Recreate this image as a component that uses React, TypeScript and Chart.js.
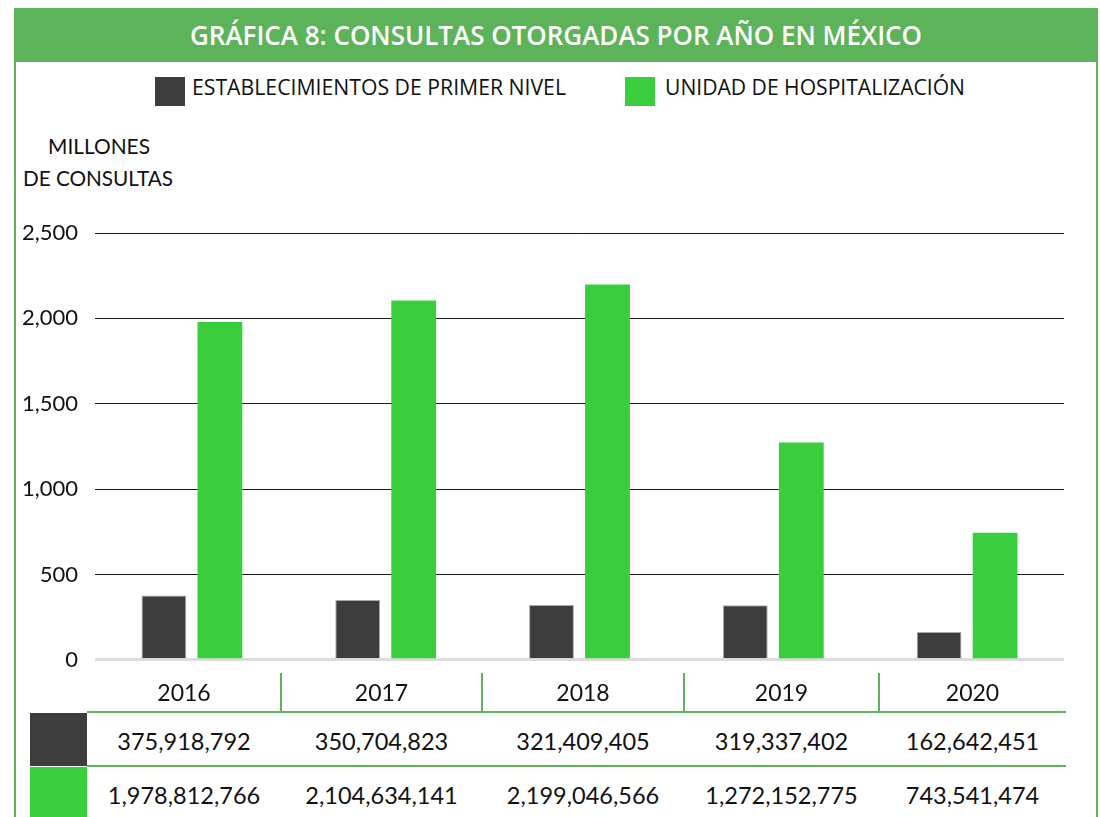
import React, { useEffect, useLayoutEffect, useRef } from "react";
import { Chart, registerables } from "chart.js";

Chart.register(...registerables);

const title = "GRÁFICA 8: CONSULTAS OTORGADAS POR AÑO EN MÉXICO";
const years = ["2016", "2017", "2018", "2019", "2020"];
const seriesNames = ["ESTABLECIMIENTOS DE PRIMER NIVEL", "UNIDAD DE HOSPITALIZACIÓN"];
const primerNivel = [375918792, 350704823, 321409405, 319337402, 162642451];
const hospitalizacion = [1978812766, 2104634141, 2199046566, 1272152775, 743541474];
const yTitle = ["MILLONES", "DE CONSULTAS"];
const yTicks = [0, 500, 1000, 1500, 2000, 2500];

const DARK = "#3d3d3d";
const GREEN = "#3acd3e";
const FRAME = "#5db35a";
const COND = '"Open Sans", sans-serif';
const HUM = 'Lato, "Open Sans", sans-serif';

const fmt = (n: number) => n.toLocaleString("en-US");

function FitText(props: { text: string; left: number; top: number; width: number; style: React.CSSProperties }) {
  const ref = useRef<HTMLSpanElement>(null);
  useLayoutEffect(() => {
    const el = ref.current;
    if (!el) return;
    el.style.transform = "none";
    const w = el.getBoundingClientRect().width;
    if (w > 0) el.style.transform = `scaleX(${props.width / w})`;
  }, [props.text, props.width]);
  return (
    <span
      ref={ref}
      style={{
        position: "absolute",
        left: props.left,
        top: props.top,
        whiteSpace: "nowrap",
        transformOrigin: "0 0",
        display: "inline-block",
        ...props.style,
      }}
    >
      {props.text}
    </span>
  );
}

export default function App() {
  const ref = useRef<HTMLCanvasElement>(null);
  useEffect(() => {
    if (!ref.current) return;
    const chart = new Chart(ref.current, {
      type: "bar",
      data: {
        labels: years,
        datasets: [
          {
            label: seriesNames[0],
            data: primerNivel.map((v) => v / 1e6),
            backgroundColor: DARK,
            borderColor: "#a8a8a8",
            borderWidth: 1,
            categoryPercentage: 0.578,
            barPercentage: 0.8,
          },
          {
            label: seriesNames[1],
            data: hospitalizacion.map((v) => v / 1e6),
            backgroundColor: GREEN,
            borderWidth: 0,
            categoryPercentage: 0.578,
            barPercentage: 0.8,
          },
        ],
      },
      options: {
        animation: false,
        responsive: false,
        maintainAspectRatio: false,
        layout: { padding: { top: 33, bottom: 13, left: 0, right: 36 } },
        plugins: { legend: { display: false }, tooltip: { enabled: false } },
        scales: {
          x: { display: false },
          y: {
            min: 0,
            max: 2500,
            afterBuildTicks: (s: any) => {
              s.ticks = yTicks.map((v) => ({ value: v }));
            },
            afterFit: (s: any) => {
              s.width = 95;
            },
            border: { display: false },
            grid: {
              drawTicks: false,
              color: (c: any) => (c.tick && c.tick.value === 0 ? "#dcdcdc" : "#1a1a1a"),
              lineWidth: (c: any) => (c.tick && c.tick.value === 0 ? 3 : 1),
            },
            ticks: {
              padding: 17,
              color: "#111",
              font: { family: HUM, size: 22 },
              callback: (v: any) => fmt(Number(v)),
            },
          },
        },
      },
    });
    return () => chart.destroy();
  }, []);

  const colEdges = [87, 281, 482, 684, 879, 1066];
  const abs = (s: React.CSSProperties): React.CSSProperties => ({ position: "absolute", ...s });

  return (
    <div style={abs({ left: 0, top: 0, width: 1100, height: 817, overflow: "hidden", background: "#fff", fontFamily: HUM, color: "#111" })}>
      {/* frame */}
      <div style={abs({ left: 14, top: 8, width: 2, height: 820, background: FRAME })} />
      <div style={abs({ left: 1096, top: 8, width: 2, height: 820, background: FRAME })} />
      <div style={abs({ left: 14, top: 8, width: 1084, height: 54, background: FRAME })} />
      <FitText
        text={title}
        left={190}
        top={15}
        width={732}
        style={{ color: "#fff", fontFamily: COND, fontWeight: 550, fontSize: 27, lineHeight: "40px" }}
      />
      {/* legend */}
      <div style={abs({ left: 155, top: 77, width: 30, height: 29, background: DARK })} />
      <FitText text={seriesNames[0]} left={192} top={73} width={374} style={{ fontFamily: COND, fontSize: 21, lineHeight: "28px" }} />
      <div style={abs({ left: 625, top: 77, width: 30, height: 29, background: GREEN })} />
      <FitText text={seriesNames[1]} left={665} top={73} width={300} style={{ fontFamily: COND, fontSize: 21, lineHeight: "28px" }} />
      {/* y title */}
      <FitText text={yTitle[0]} left={48} top={132} width={102} style={{ fontSize: 21, lineHeight: "28px" }} />
      <FitText text={yTitle[1]} left={23} top={164} width={150} style={{ fontSize: 21, lineHeight: "28px" }} />
      {/* chart */}
      <canvas ref={ref} width={1100} height={490} style={abs({ left: 0, top: 200, width: 1100, height: 490 })} />
      {/* table */}
      {years.map((y, i) => (
        <div key={y} style={abs({ left: colEdges[i], top: 677, width: colEdges[i + 1] - colEdges[i], textAlign: "center", fontSize: 23, lineHeight: "30px" })}>{y}</div>
      ))}
      {colEdges.slice(1, 5).map((x) => (
        <div key={x} style={abs({ left: x - 1, top: 673, width: 2, height: 40, background: FRAME })} />
      ))}
      <div style={abs({ left: 87, top: 711, width: 979, height: 2, background: FRAME })} />
      <div style={abs({ left: 87, top: 765, width: 979, height: 2, background: FRAME })} />
      <div style={abs({ left: 30, top: 713, width: 57, height: 53, background: DARK })} />
      <div style={abs({ left: 30, top: 767, width: 57, height: 60, background: GREEN })} />
      {primerNivel.map((v, i) => (
        <div key={"a" + i} style={abs({ left: colEdges[i], top: 725, width: colEdges[i + 1] - colEdges[i], textAlign: "center", fontSize: 23.5, lineHeight: "32px" })}>{fmt(v)}</div>
      ))}
      {hospitalizacion.map((v, i) => (
        <div key={"b" + i} style={abs({ left: colEdges[i], top: 779, width: colEdges[i + 1] - colEdges[i], textAlign: "center", fontSize: 23.5, lineHeight: "32px" })}>{fmt(v)}</div>
      ))}
    </div>
  );
}
